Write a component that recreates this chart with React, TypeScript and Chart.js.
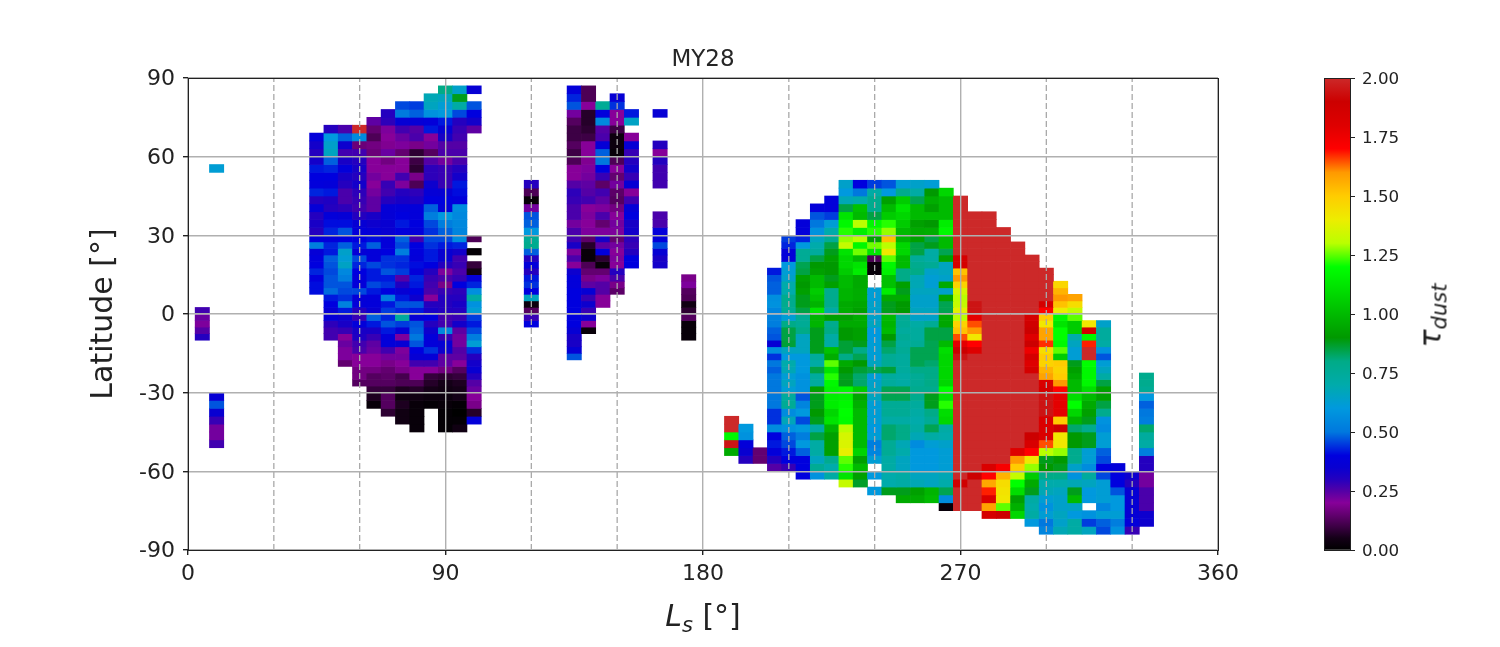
import React, { useEffect, useRef } from "react";
import { Chart, registerables } from "chart.js";

Chart.register(...registerables);

const FONT = "'DejaVu Sans', sans-serif";

const latEdges = [
  90, 87, 84, 81, 78, 75, 72, 69, 66, 63, 60, 57, 54, 51, 48, 45, 42, 39, 36, 33, 30,
  27.5, 25, 22.5, 20, 17.5, 15, 12.5, 10, 7.5, 5, 2.5, 0,
  -2.5, -5, -7.5, -10, -12.5, -15, -17.5, -20, -22.5, -25, -27.5, -30,
  -33, -36, -39, -42, -45, -48, -51, -54, -57, -60, -63, -66, -69, -72, -75, -78, -81, -84, -87, -90,
];

const xTicks = [0, 90, 180, 270, 360];
const yTicks = [-90, -60, -30, 0, 30, 60, 90];
const dashedLs = [30, 60, 120, 150, 210, 240, 300, 330];
const colorbarTicks = [0, 0.25, 0.5, 0.75, 1, 1.25, 1.5, 1.75, 2];

// Colour scale: tau value, red, green, blue
const scaleTau = [0, 0.05, 0.1, 0.15, 0.2, 0.25, 0.3, 0.35, 0.4, 0.5, 0.6, 0.7, 0.8, 0.9, 1.0, 1.1, 1.2, 1.3, 1.4, 1.5, 1.6, 1.7, 1.8, 1.9, 2.0];
const scaleR = [0, 0.08, 0.24, 0.39, 0.53, 0.33, 0.14, 0.03, 0, 0, 0, 0, 0, 0, 0, 0, 0, 0.73, 0.93, 1, 1, 1, 0.87, 0.8, 0.8];
const scaleG = [0, 0, 0, 0, 0, 0, 0, 0, 0, 0.47, 0.6, 0.67, 0.67, 0.6, 0.73, 0.87, 1, 1, 0.93, 0.8, 0.6, 0, 0, 0, 0.16];
const scaleB = [0, 0.09, 0.27, 0.44, 0.6, 0.65, 0.75, 0.82, 0.87, 0.87, 0.87, 0.67, 0.53, 0, 0, 0, 0, 0, 0, 0, 0, 0, 0, 0, 0.16];

// Each segment: Ls of the column, index of the first latitude band, tau x 100 going south
const segLs = [
  5, 10, 10, 45, 50, 55, 60, 65, 70, 75, 80, 85, 90, 95, 100, 100, 100, 100, 100,
  120, 135, 140, 145, 150, 155, 155, 165, 165, 165, 175, 190, 195, 200,
  205, 210, 215, 220, 225, 230, 235, 240, 245, 250, 255, 260, 265,
  270, 275, 280, 285, 290, 295, 300, 305, 310, 315, 320, 325, 330, 335,
];
const segRow = [
  31, 11, 44, 7, 6, 6, 6, 5, 4, 3, 3, 2, 1, 1, 1, 3, 20, 22, 24,
  13, 1, 1, 3, 2, 4, 7, 4, 8, 17, 26, 47, 48, 51,
  25, 20, 18, 16, 15, 13, 13, 13, 13, 13, 13, 13, 14,
  15, 17, 17, 19, 21, 23, 25, 27, 29, 33, 33, 53, 54, 41,
];
const segTau: (number | null)[][] = [
  [27, 23, 21, 25, 30],
  [62],
  [36, 47, 35, 28, 22, 22, 27],
  [38, 33, 30, 33, 42, 40, 39, 43, 30, 37, 30, 32, 30, 38, 52, 37, 39, 40, 43, 39, 41, 41],
  [30, 60, 64, 66, 48, 43, 40, 38, 42, 31, 30, 38, 41, 43, 38, 43, 42, 48, 47, 46, 47, 47, 49, 42, 40, 36, 37, 29, 27, 27],
  [26, 48, 34, 27, 32, 38, 32, 30, 26, 26, 29, 37, 41, 47, 40, 48, 64, 62, 65, 55, 52, 47, 46, 44, 53, 42, 34, 32, 28, 20, 23, 21, 21, 15],
  [200, 56, 16, 27, 30, 32, 30, 33, 29, 28, 27, 30, 36, 38, 40, 42, 37, 46, 43, 40, 38, 38, 46, 37, 38, 30, 28, 38, 32, 31, 27, 26, 20, 20, 17, 17, 13],
  [24, 15, 12, 17, 16, 20, 20, 22, 20, 22, 24, 24, 32, 34, 37, 41, 48, 38, 38, 46, 42, 42, 46, 42, 38, 38, 35, 48, 42, 32, 28, 24, 23, 20, 20, 17, 13, 13, 9, 6, 2],
  [30, 29, 21, 20, 19, 23, 17, 20, 20, 28, 27, 30, 37, 37, 35, 35, 38, 38, 40, 44, 44, 47, 42, 44, 40, 52, 42, 45, 43, 47, 42, 38, 38, 27, 22, 18, 15, 14, 13, 9, 13, 13, 8],
  [46, 51, 36, 27, 23, 21, 15, 20, 20, 27, 21, 30, 32, 38, 40, 42, 39, 48, 46, 52, 44, 43, 45, 25, 31, 36, 42, 47, 43, 74, 45, 36, 21, 36, 21, 22, 20, 18, 11, 12, 6, 4, 6, 4, 4],
  [45, 48, 37, 25, 26, 18, 8, 10, 8, 18, 12, 29, 31, 38, 38, 40, 38, 27, 40, 39, 38, 41, 38, 43, 42, 40, 34, 47, 42, 36, 47, 48, 50, 47, 40, 36, 27, 20, 20, 12, 7, 4, 2, 2, 2, 2],
  [68, 66, 58, 38, 42, 20, 22, 13, 25, 29, 29, 34, 37, 40, 48, 52, 46, 44, 46, 44, 42, 42, 40, 30, 28, 27, 26, 20, 30, 32, 40, 30, 34, 38, 38, 44, 37, 27, 20, 9, 7, 5, 3, 1],
  [80, 66, 62, 60, 42, 36, 32, 25, 26, 22, 28, 28, 28, 36, 40, 38, 60, 52, 48, 46, 42, 35, 35, 30, 21, 26, 18, 28, 30, 30, 30, 27, 27, 55, 28, 36, 34, 24, 24, 17, 8, 5, 4, 3, 2, 1, 1, 1],
  [64, 88, 72, 46, 30, 28, 27, 25, 26, 26, 30, 33, 42, 41, 39, 56, 55, 55, 54, 56, 43, 33, 27, 28, 26, 28, 40, 29, 30, 32, 30, 28, 33, 24, 22, 22, 25, 24, 20, 13, 9, 6, 5, 5, 1, 0, 1, 4],
  [36],
  [47, 40, 33, 24],
  [12],
  [1],
  [9, 4, 37, 43, 57, 72, 58, 62, 45, 42, 46, 52, 62, 44, 30, 33, 35, 30, 25, 23, 20, 18, 7, 38],
  [30, 12, 2, 22, 47, 48, 60, 76, 78, 48, 30, 38, 30, 42, 44, 40, 66, 3, 13, 28, 40],
  [38, 43, 47, 22, 13, 10, 10, 13, 10, 12, 20, 20, 25, 29, 28, 26, 26, 22, 26, 27, 32, 21, 26, 20, 34, 38, 38, 40, 40, 40, 40, 40, 40, 36, 32, 32, 36, 47],
  [12, 12, 20, 7, 7, 8, 10, 20, 20, 19, 21, 22, 24, 25, 27, 20, 21, 20, 21, 14, 7, 2, 2, 12, 15, 18, 24, 36, 28, 34, 28, 34, 20, 2],
  [76, 39, 55, 25, 26, 37, 48, 50, 40, 28, 14, 27, 24, 21, 26, 15, 21, 32, 24, 39, 8, 2, 15, 21, 25, 25, 20, 20],
  [36, 44, 20, 20, 10, 3, 3, 2, 12, 20, 15, 22, 14, 13, 17, 20, 22, 21, 15, 22, 20, 21, 20, 30, 26, 18, 14],
  [42, 65],
  [20, 36, 28, 30, 33, 28, 36, 20, 27, 37, 40, 32, 33, 29, 28, 30, 40, 40],
  [36],
  [30, 20, 30, 27, 27, 27],
  [26, 26, 38, 38, 46, 36, 32, 33],
  [18, 21, 13, 12, 4, 8, 13, 2, 2, 2],
  [200, 200, 118, 195, 95],
  [60, 58, 38, 35, 30],
  [15, 15],
  [42, 47, 48, 48, 57, 58, 54, 53, 52, 48, 47, 36, 57, 44, 50, 48, 50, 50, 50, 50, 50, 44, 44, 56, 40, 42, 38, 30, 25],
  [45, 43, 38, 38, 60, 62, 64, 70, 70, 78, 78, 76, 62, 80, 85, 85, 86, 66, 60, 70, 68, 62, 66, 62, 74, 76, 56, 67, 58, 48, 46, 42, 40, 28],
  [38, 38, 43, 60, 76, 76, 84, 85, 92, 90, 92, 88, 88, 85, 76, 76, 80, 66, 66, 66, 60, 60, 60, 58, 58, 58, 47, 54, 60, 46, 60, 52, 60, 48, 40, 40, 40],
  [38, 47, 50, 58, 66, 70, 74, 85, 90, 92, 100, 100, 105, 102, 98, 112, 98, 98, 88, 88, 88, 88, 75, 72, 85, 74, 74, 92, 88, 88, 90, 88, 72, 85, 72, 72, 66, 76, 58],
  [38, 38, 45, 62, 70, 76, 85, 88, 92, 90, 90, 88, 92, 78, 78, 78, 72, 92, 78, 80, 72, 72, 102, 96, 125, 112, 122, 118, 116, 115, 115, 108, 112, 98, 92, 92, 92, 78, 70, 72],
  [64, 60, 68, 85, 112, 118, 122, 128, 132, 112, 108, 108, 105, 100, 100, 98, 98, 95, 96, 92, 95, 90, 90, 86, 86, 80, 95, 90, 88, 88, 118, 116, 118, 120, 119, 130, 135, 136, 139, 125, 122, 112, 132],
  [40, 50, 70, 102, 100, 130, 115, 130, 118, 126, 100, 112, 115, 95, 95, 96, 96, 94, 92, 96, 95, 92, 92, 88, 80, 84, 90, 86, 82, 82, 105, 94, 97, 100, 100, 100, 100, 100, 107, 92, 100, 92, 87],
  [45, 72, 78, 78, 85, 118, 122, 92, 126, 112, 12, 2, 2, null, null, 62, 62, 64, 64, 64, 66, 60, 60, 62, 62, 62, 66, 84, 62, 64, 66, 66, 62, 62, 62, 60, 62, 52, 54, 62, null, 60, null, 60],
  [47, 60, 92, 100, 105, 122, 128, 152, 130, 142, 125, 118, 116, 102, 102, 115, 95, 88, 88, 100, 98, 100, 90, 85, 82, 76, 76, 86, 74, 74, 84, 84, 76, 76, 72, 82, 82, 76, 76, 72, 72, 70, 70, 88],
  [62, 78, 105, 112, 108, 105, 100, 98, 108, 108, 100, 100, 80, 80, 92, 88, 95, 90, 90, 76, 76, 74, 76, 74, 76, 74, 74, 74, 72, 72, 84, 84, 76, 76, 72, 80, 80, 68, 70, 66, 66, 72, 72, 88, 95],
  [64, 72, 84, 100, 100, 92, 95, 92, 85, 85, 75, 78, 80, 68, 68, 66, 64, 64, 66, 64, 72, 74, 74, 76, 84, 84, 84, 80, 76, 76, 78, 78, 74, 72, 70, 72, 68, 56, 60, 60, 60, 66, 68, 92, 95],
  [62, 90, 96, 92, 100, 90, 96, 85, 88, 72, 72, 76, 64, 62, 62, 66, 64, 64, 66, 64, 76, 85, 85, 84, 84, 84, 82, 80, 80, 80, 78, 88, 88, 80, 76, 84, 72, 62, 60, 60, 60, 66, 66, 98, 100],
  [108, 100, 100, 100, 115, 118, 100, 100, 84, 92, 66, 66, 64, 95, 64, 94, 84, 84, 95, 94, 85, 85, 100, 110, 108, 108, 108, 108, 108, 120, 112, 122, 110, 108, 72, 70, 64, 62, 62, 62, 68, 70, 84, 56, 2],
  [200, 200, 200, 200, 200, 200, 200, 200, 185, 185, 152, 160, 148, 135, 130, 132, 138, 130, 148, 152, 165, 178, 190, 195, 200, 200, 200, 200, 200, 200, 200, 200, 200, 200, 200, 200, 200, 200, 200, 200, 188, 200, 200, 200],
  [200, 200, 200, 200, 200, 200, 200, 200, 200, 200, 200, 200, 200, 195, 195, 178, 165, 160, 142, 170, 180, 200, 200, 200, 200, 200, 200, 200, 200, 200, 200, 200, 200, 200, 200, 200, 200, 190, 200, 200, 200, 200],
  [200, 200, 200, 200, 200, 200, 200, 200, 200, 200, 200, 200, 200, 200, 200, 200, 200, 200, 200, 200, 200, 200, 200, 200, 200, 200, 200, 200, 200, 200, 200, 200, 200, 200, 200, 200, 182, 170, 157, 168, 182, 158, 185],
  [200, 200, 200, 200, 200, 200, 200, 200, 200, 200, 200, 200, 200, 200, 200, 200, 200, 200, 200, 200, 200, 200, 200, 200, 200, 200, 200, 200, 200, 200, 200, 200, 200, 200, 172, 155, 145, 143, 142, 125, 190],
  [200, 200, 200, 200, 200, 200, 200, 200, 200, 200, 200, 200, 200, 200, 200, 200, 200, 200, 200, 200, 200, 200, 200, 200, 200, 200, 200, 200, 200, 200, 180, 160, 150, 132, 120, 110, 92, 97, 108],
  [200, 200, 200, 200, 200, 200, 200, 200, 200, 185, 188, 190, 180, 190, 175, 185, 180, 185, 200, 200, 200, 200, 200, 200, 200, 200, 190, 183, 170, 142, 128, 105, 95, 88, 72, 70, 72, 60],
  [200, 200, 200, 200, 200, 185, 170, 150, 142, 158, 158, 167, 145, 150, 148, 155, 158, 182, 185, 195, 195, 195, 182, 182, 182, 165, 130, 88, 90, 80, 70, 68, 62, 58, 62, 50, 54],
  [147, 155, 160, 152, 140, 118, 112, 120, 120, 118, 125, 105, 150, 148, 150, 160, 170, 178, 178, 178, 150, 190, 142, 142, 128, 90, 88, 80, 70, 66, 64, 64, 66, 64, 68],
  [158, 145, 132, 125, 105, 105, 70, 66, 62, 62, 88, 92, 95, 100, 100, 110, 120, 108, 98, 82, 90, 90, 78, 78, 64, 58, 68, 88, 100, 65, 60, 72, 72],
  [142, 188, 118, 168, 200, 200, 120, 118, 118, 118, 110, 100, 95, 92, 88, 78, 88, 88, 62, 62, 56, 74, 66, 60, 60, null, 58, 45, 66],
  [64, 74, 74, 72, 58, 47, 62, 66, 72, 85, 92, 92, 85, 78, 58, 56, 62, 62, 48, 46, 40, 46, 62, 62, 62, 54, 62, 48, 46],
  [38, 40, 40, 47, 60, 60, 62, 52, 58],
  [34, 30, 36, 36, 36, 36, 38, 28],
  [78, 78, 76, 60, 48, 50, 52, 82, 74, 72, 52, 30, 30, 22, 22, 26, 26, 26, 34, 34],
];

function tauColor(tau: number): string {
  let i = 0;
  while (i < scaleTau.length - 2 && tau > scaleTau[i + 1]) i++;
  const f = Math.min(1, Math.max(0, (tau - scaleTau[i]) / (scaleTau[i + 1] - scaleTau[i])));
  const mix = (a: number[]) => Math.round((a[i] + (a[i + 1] - a[i]) * f) * 255);
  return `rgb(${mix(scaleR)},${mix(scaleG)},${mix(scaleB)})`;
}

function buildCellDatasets() {
  const byRow: Record<number, { data: any[]; colors: string[] }> = {};
  segTau.forEach((values, s) => {
    values.forEach((v, k) => {
      if (v === null) return;
      const r = segRow[s] + k;
      if (!byRow[r]) byRow[r] = { data: [], colors: [] };
      byRow[r].data.push({ x: segLs[s], y: [latEdges[r + 1], latEdges[r]] });
      byRow[r].colors.push(tauColor(v / 100));
    });
  });
  return Object.values(byRow).map((row) => ({
    type: "bar" as const,
    data: row.data,
    backgroundColor: row.colors,
    borderWidth: 0,
    grouped: false,
    barPercentage: 1,
    categoryPercentage: 1,
    order: 5,
  }));
}

const framePlugin = {
  id: "frame",
  afterDraw(chart: any) {
    const { ctx, chartArea: a } = chart;
    ctx.save();
    ctx.strokeStyle = "#222";
    ctx.lineWidth = 1;
    ctx.strokeRect(Math.round(a.left) + 0.5, Math.round(a.top) + 0.5, Math.round(a.right - a.left), Math.round(a.bottom - a.top));
    ctx.restore();
  },
};

export default function App() {
  const mainRef = useRef<HTMLCanvasElement>(null);
  const barRef = useRef<HTMLCanvasElement>(null);

  useEffect(() => {
    const dashed = dashedLs.map((ls) => ({
      type: "line" as const,
      data: [
        { x: ls, y: -90 },
        { x: ls, y: 90 },
      ],
      borderColor: "#a9a9a9",
      borderWidth: 1.3,
      borderDash: [6, 3],
      pointRadius: 0,
      order: 0,
    }));
    const main = new Chart(mainRef.current!, {
      type: "bar",
      data: { datasets: [...buildCellDatasets(), ...dashed] as any },
      plugins: [framePlugin],
      options: {
        responsive: false,
        animation: false,
        events: [],
        layout: { padding: { left: 0, top: 0, right: 82, bottom: 0 } },
        plugins: {
          legend: { display: false },
          tooltip: { enabled: false },
          title: {
            display: true,
            text: "MY28",
            fullSize: false,
            color: "#262626",
            font: { family: FONT, size: 23, weight: "normal" },
            padding: { top: 46, bottom: 4.4 },
          },
        },
        scales: {
          x: {
            type: "linear",
            min: 0,
            max: 360,
            offset: false,
            afterFit(s: any) {
              s.height = 97;
            },
            afterBuildTicks(s: any) {
              s.ticks = xTicks.map((value) => ({ value }));
            },
            grid: { offset: false, z: 1, color: "#b0b0b0", lineWidth: 1.4, tickColor: "#222", tickLength: 5 },
            border: { display: false },
            ticks: { color: "#222", maxRotation: 0, padding: 6, font: { family: FONT, size: 22 } },
          },
          y: {
            type: "linear",
            min: -90,
            max: 90,
            afterFit(s: any) {
              s.width = 188;
            },
            afterBuildTicks(s: any) {
              s.ticks = yTicks.map((value) => ({ value }));
            },
            grid: { z: 1, color: "#b0b0b0", lineWidth: 1.4, tickColor: "#222", tickLength: 5 },
            border: { display: false },
            ticks: { color: "#222", padding: 8, labelOffset: 1.5, font: { family: FONT, size: 22 } },
            title: {
              display: true,
              text: "Latitude [°]",
              color: "#222",
              font: { family: FONT, size: 30 },
              padding: { top: 86, bottom: 0 },
            },
          },
        },
      } as any,
    });

    const cbar = new Chart(barRef.current!, {
      type: "bar",
      data: {
        labels: ["tau"],
        datasets: [
          {
            data: [[0, 2]],
            borderWidth: 0,
            barPercentage: 1,
            categoryPercentage: 1,
            backgroundColor(c: any) {
              const a = c.chart.chartArea;
              if (!a) return "#000";
              const g = c.chart.ctx.createLinearGradient(0, a.bottom, 0, a.top);
              scaleTau.forEach((t) => g.addColorStop(t / 2, tauColor(t)));
              return g;
            },
          },
        ] as any,
      },
      plugins: [framePlugin],
      options: {
        responsive: false,
        animation: false,
        events: [],
        layout: { padding: { left: 24, top: 78, right: 0, bottom: 97 } },
        plugins: { legend: { display: false }, tooltip: { enabled: false } },
        scales: {
          x: { display: false },
          y: {
            type: "linear",
            position: "right",
            min: 0,
            max: 2,
            afterFit(s: any) {
              s.width = 150;
            },
            afterBuildTicks(s: any) {
              s.ticks = colorbarTicks.map((value) => ({ value }));
            },
            grid: { drawOnChartArea: false, tickColor: "#222", tickLength: 5 },
            border: { display: false },
            ticks: {
              color: "#222",
              padding: 7,
              labelOffset: 1.5,
              font: { family: FONT, size: 16.7 },
              callback: (v: any) => Number(v).toFixed(2),
            },
          },
        },
      } as any,
    });
    return () => {
      main.destroy();
      cbar.destroy();
    };
  }, []);

  return (
    <div style={{ position: "absolute", left: 0, top: 0, width: 1500, height: 647, background: "#fff", overflow: "hidden", fontFamily: FONT }}>
      <canvas ref={mainRef} width={1300} height={647} style={{ position: "absolute", left: 0, top: 0, width: 1300, height: 647 }} />
      <canvas ref={barRef} width={200} height={647} style={{ position: "absolute", left: 1300, top: 0, width: 200, height: 647 }} />
      <div style={{ position: "absolute", left: 603, top: 598, width: 200, textAlign: "center", fontSize: 30, lineHeight: "36px", whiteSpace: "nowrap", color: "#222" }}>
        <i>L</i>
        <i style={{ fontSize: 21, position: "relative", top: 6 }}>s</i> [°]
      </div>
      <div style={{ position: "absolute", left: 1332, top: 296, width: 200, textAlign: "center", fontSize: 30, lineHeight: "36px", whiteSpace: "nowrap", color: "#222", transform: "rotate(-90deg)" }}>
        <i>τ</i>
        <i style={{ fontSize: 21, position: "relative", top: 6 }}>dust</i>
      </div>
    </div>
  );
}
